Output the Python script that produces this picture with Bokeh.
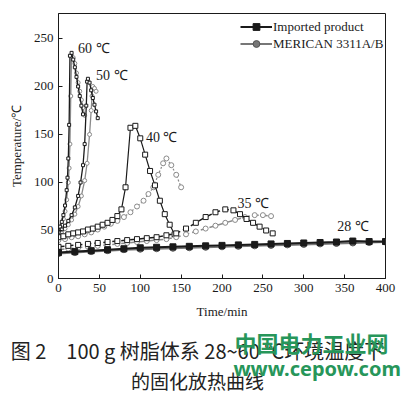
from bokeh.plotting import figure
from bokeh.layouts import column
from bokeh.models import Range1d, Label, Legend, LegendItem, FixedTicker
from bokeh.core.properties import value
from bokeh.embed import file_html
from bokeh.resources import INLINE

# ---- data (time in min, temperature in degC) ----
t60_imp = [0, 2, 4, 6, 8, 10, 11, 12, 13, 14, 16, 18, 20, 22, 24, 26, 28, 30]
T60_imp = [50, 54, 59, 66, 76, 92, 105, 125, 160, 232, 235, 228, 220, 210, 200, 190, 180, 171]
t60_mer = [0, 2, 4, 6, 8, 10, 12, 13, 14, 15, 16, 18, 20, 22, 24, 26, 28, 30, 32]
T60_mer = [47, 51, 56, 62, 70, 82, 100, 115, 140, 190, 232, 230, 224, 214, 204, 195, 186, 178, 170]

t50_imp = [0, 4, 8, 12, 16, 20, 24, 27, 30, 32, 34, 35, 36, 38, 40, 42, 44, 46, 48]
T50_imp = [48, 51, 55, 60, 66, 74, 86, 100, 118, 140, 180, 205, 208, 204, 196, 188, 181, 174, 167]
t50_mer = [0, 4, 8, 12, 16, 20, 24, 28, 32, 35, 38, 40, 41, 42, 44, 46]
T50_mer = [46, 49, 52, 56, 61, 67, 75, 86, 102, 120, 150, 175, 190, 200, 198, 195]

t40_imp = [0, 6, 12, 18, 24, 30, 36, 42, 48, 54, 60, 66, 72, 77, 82, 88, 94, 100, 106, 112, 118, 124, 130, 136, 142]
T40_imp = [43, 44, 46, 47, 48, 49, 51, 52, 54, 56, 58, 61, 65, 72, 95, 157, 159, 146, 129, 112, 97, 81, 67, 56, 46]
t40_mer = [0, 8, 16, 24, 32, 40, 48, 56, 64, 72, 80, 88, 96, 104, 110, 116, 122, 128, 132, 138, 144, 150]
T40_mer = [40, 41, 43, 44, 46, 48, 51, 54, 57, 60, 64, 69, 75, 81, 88, 95, 108, 120, 125, 118, 108, 95]

t35_imp = [0, 12, 24, 36, 48, 60, 72, 84, 96, 108, 120, 132, 144, 156, 168, 180, 192, 204, 214, 222, 230, 238, 246, 254, 262]
T35_imp = [33, 34, 35, 36, 37, 38, 39, 40, 41, 42, 43, 45, 47, 52, 58, 64, 69, 72, 71, 67, 62, 58, 54, 50, 47]
t35_mer = [0, 12, 24, 36, 48, 60, 72, 84, 96, 108, 120, 132, 144, 156, 168, 180, 192, 204, 216, 228, 240, 250, 260]
T35_mer = [30, 31, 32, 33, 34, 35, 36, 37, 38, 39, 40, 41, 43, 46, 49, 52, 55, 58, 61, 64, 66, 66, 65]

t28 = [0, 20, 40, 60, 80, 100, 120, 140, 160, 180, 200, 220, 240, 260, 280, 300, 320, 340, 360, 380, 400]
T28_imp = [27, 28, 29, 30, 31, 32, 32.5, 33, 33.5, 34, 34.5, 35, 35.5, 36, 36.5, 37, 37.5, 38, 39, 38.5, 38.5]
T28_mer = [26, 27, 28, 29, 30, 30.5, 31, 31.5, 32, 32.5, 33, 33.5, 34, 34.5, 35, 35.5, 36, 36.5, 37, 37.5, 38]

x_ticks = [0, 50, 100, 150, 200, 250, 300, 350, 400]
y_ticks = [0, 50, 100, 150, 200, 250]

curve_labels = ["60 ℃", "50 ℃", "40 ℃", "35 ℃", "28 ℃"]
curve_label_pos = [(24, 240), (46, 211), (107, 147), (219, 78), (341, 54)]

caption1 = "图 2　100 g 树脂体系 28~60 ℃环境温度下"
caption2 = "的固化放热曲线"
watermark1 = "中国电力工业网"
watermark2 = "www.cepow.com"

BLACK = "#1a1a1a"
GRAY = "#8a8a8a"
GREEN = "#27965a"
SERIF = "Liberation Serif"

W = 410
p = figure(width=W, height=322, output_backend="svg", toolbar_location=None,
           x_range=Range1d(0, 400), y_range=Range1d(0, 276),
           min_border_left=58, min_border_right=25, min_border_top=13, min_border_bottom=44)
p.background_fill_color = "white"
p.border_fill_color = "white"
p.outline_line_color = BLACK
p.outline_line_width = 1
p.xgrid.visible = False
p.ygrid.visible = False

for ax in (p.xaxis[0], p.yaxis[0]):
    ax.major_tick_in = 4
    ax.major_tick_out = 0
    ax.minor_tick_line_color = None
    ax.axis_line_color = BLACK
    ax.major_tick_line_color = BLACK
    ax.major_label_text_font = SERIF
    ax.major_label_text_font_size = "13px"
    ax.major_label_text_color = BLACK
    ax.axis_label_text_font = SERIF
    ax.axis_label_text_font_size = "13px"
    ax.axis_label_text_font_style = "normal"
    ax.axis_label_text_color = BLACK
p.xaxis.ticker = FixedTicker(ticks=x_ticks)
p.yaxis.ticker = FixedTicker(ticks=y_ticks)
p.xaxis.axis_label = "Time/min"
p.yaxis.axis_label = "Temperature/℃"
p.xaxis.major_label_standoff = 5
p.yaxis.major_label_standoff = 5
p.xaxis.axis_label_standoff = 9
p.yaxis.axis_label_standoff = 7

# 60 and 50 C
p.line(t60_mer, T60_mer, line_color=GRAY, line_width=1.3)
p.scatter(t60_mer, T60_mer, marker="circle", size=4, fill_color="white", line_color=GRAY)
p.line(t60_imp, T60_imp, line_color=BLACK, line_width=1.3)
p.scatter(t60_imp, T60_imp, marker="square", size=3, fill_color="white", line_color=BLACK)
p.line(t50_mer, T50_mer, line_color=GRAY, line_width=1.3)
p.scatter(t50_mer, T50_mer, marker="circle", size=4, fill_color="white", line_color=GRAY)
p.line(t50_imp, T50_imp, line_color=BLACK, line_width=1.3)
p.scatter(t50_imp, T50_imp, marker="square", size=3, fill_color="white", line_color=BLACK)

# 40 C
p.line(t40_mer, T40_mer, line_color=GRAY, line_width=1.2, line_dash="2 2")
p.scatter(t40_mer, T40_mer, marker="circle", size=5, fill_color="white", line_color=GRAY)
p.line(t40_imp, T40_imp, line_color=BLACK, line_width=1.2)
p.scatter(t40_imp, T40_imp, marker="square", size=5, fill_color="white", line_color=BLACK)

# 35 C
p.line(t35_mer, T35_mer, line_color=GRAY, line_width=1.5, line_dash="6 3")
p.scatter(t35_mer, T35_mer, marker="circle", size=5, fill_color="white", line_color=GRAY)
p.line(t35_imp, T35_imp, line_color=BLACK, line_width=1.5, line_dash="6 3")
p.scatter(t35_imp, T35_imp, marker="square", size=5, fill_color="white", line_color=BLACK)

# 28 C
l28m = p.line(t28, T28_mer, line_color="#777777", line_width=2)
s28m = p.scatter(t28, T28_mer, marker="circle", size=6, fill_color="#777777", line_color="#555555")
l28i = p.line(t28, T28_imp, line_color=BLACK, line_width=2)
s28i = p.scatter(t28, T28_imp, marker="square", size=6, fill_color=BLACK, line_color=BLACK)

legend = Legend(items=[LegendItem(label="Imported product", renderers=[l28i, s28i]),
                       LegendItem(label="MERICAN 3311A/B", renderers=[l28m, s28m])],
                location=(182, 226), orientation="vertical",
                glyph_width=32, glyph_height=17, label_height=17, label_standoff=1,
                spacing=0, padding=0, margin=0,
                border_line_color=None, background_fill_alpha=0,
                label_text_font=SERIF, label_text_font_size="13px", label_text_color=BLACK)
p.add_layout(legend)

for txt, (lx, ly) in zip(curve_labels, curve_label_pos):
    p.add_layout(Label(x=lx, y=ly, text=txt, text_font=SERIF, text_font_size="14px",
                       text_color=BLACK, text_baseline="middle", text_align="left"))

# ---- caption panel ----
H2 = 397 - 322
c = figure(width=W, height=H2, output_backend="svg", toolbar_location=None,
           x_range=Range1d(0, W), y_range=Range1d(H2, 0),
           min_border=0, min_border_left=0, min_border_right=0, min_border_top=0, min_border_bottom=0)
c.axis.visible = False
c.xgrid.visible = False
c.ygrid.visible = False
c.outline_line_color = None
c.background_fill_color = "white"
c.border_fill_color = "white"
try:
    c.frame_align = False
    p.frame_align = False
except Exception:
    pass

c.text(x=[197], y=[28], text=[caption1], text_font=value("Noto Sans CJK SC"),
       text_font_size="20px", text_color="#222222", text_align="center", text_baseline="middle")
c.text(x=[197], y=[58], text=[caption2], text_font=value("Noto Sans CJK SC"),
       text_font_size="19px", text_color="#222222", text_align="center", text_baseline="middle")
c.text(x=[234], y=[19], text=[watermark1], text_font=value("Noto Sans CJK SC"),
       text_font_size="22px", text_font_style="bold", text_color=GREEN,
       text_align="left", text_baseline="middle")
c.text(x=[233], y=[46], text=[watermark2], text_font=value("Noto Sans"),
       text_font_size="20px", text_font_style="bold", text_color=GREEN,
       text_align="left", text_baseline="middle")

open("out.html", "w").write(file_html(column(p, c, spacing=0), INLINE))
